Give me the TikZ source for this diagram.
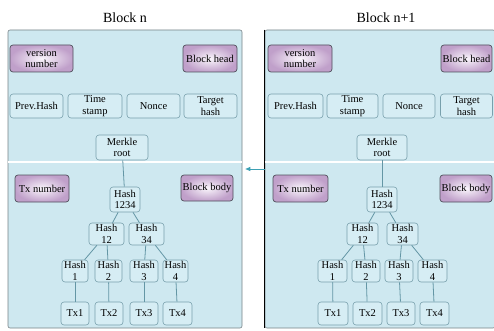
\documentclass[tikz,border=0pt]{standalone}
\usepackage{fontspec}
\setmainfont{Liberation Serif}
\usetikzlibrary{arrows.meta}
\definecolor{panelc}{RGB}{206,232,240}
\definecolor{panelb}{RGB}{120,130,135}
\definecolor{boxf}{RGB}{214,237,244}
\definecolor{boxb}{RGB}{120,160,172}
\definecolor{pin}{RGB}{250,246,252}
\definecolor{pout}{RGB}{192,160,202}
\definecolor{pborder}{RGB}{80,80,92}
\definecolor{linkc}{RGB}{100,150,165}
\definecolor{arrc}{RGB}{60,160,180}
\begin{document}
\begin{tikzpicture}[x=1pt,y=-1pt,
  sz/.style 2 args={minimum width=#1pt, minimum height=#2pt},
  panel/.style={draw=panelb, fill=panelc, rounded corners=2pt, line width=0.6pt, inner sep=0pt},
  bbox/.style={draw=boxb, fill=boxf, rounded corners=3pt, line width=0.6pt, inner sep=0pt, align=center, font=\fontsize{10.5}{11.5}\selectfont},
  pbox/.style={draw=pborder, inner color=pin, outer color=pout, rounded corners=3pt, line width=0.7pt, inner sep=0pt, align=center, font=\fontsize{10.5}{11.5}\selectfont},
  link/.style={draw=linkc, line width=0.8pt},
  sep/.style={draw=white, line width=1.2pt},
  title/.style={font=\fontsize{14}{16}\selectfont, inner sep=0pt}]
\useasboundingbox (0,0) rectangle (494,331);

% titles
\node[title] (Lt) at (125,18) {Block n};
\node[title] (Rt) at (386,18) {Block n+1};

% panels
\node[panel, sz={234}{298}] (Lpanel) at (125,179) {};
\node[panel, sz={230}{298}] (Rpanel) at (380,179) {};
\draw[black, line width=1.5pt] (Rpanel.north west) -- (Rpanel.south west);

% separators
\draw[sep] (Lpanel.west |- 0,162) -- (Lpanel.east |- 0,162);
\draw[sep] (Rpanel.west |- 0,162) -- (Rpanel.east |- 0,162);

% arrow between blocks
\draw[draw=arrc, line width=0.7pt, -{Triangle[length=5pt,width=4pt]}] (Rpanel.west |- 0,169) -- ([xshift=3pt]Lpanel.east |- 0,169);

% ---------- left block ----------
\node[pbox, sz={63}{27}] (Lvn) at (41.5,58.5) {version\\number};
\node[pbox, sz={54}{27}] (Lbh) at (210,58.5) {Block head};
\node[bbox, sz={53}{24}] (Lph) at (36.5,106) {Prev.Hash};
\node[bbox, sz={54}{24}] (Lts) at (95,106) {Time\\stamp};
\node[bbox, sz={53}{24}] (Lnc) at (153.5,106) {Nonce};
\node[bbox, sz={53}{24}] (Lth) at (210.5,106) {Target\\hash};
\node[bbox, sz={52}{25}] (Lmr) at (122,147.5) {Merkle\\root};
\node[pbox, sz={54}{27}] (Ltxn) at (42,188.5) {Tx number};
\node[pbox, sz={52}{26}] (Lbb) at (207,188) {Block body};
\node[bbox, sz={30}{25}] (Lh1234) at (125,199.5) {Hash\\1234};
\node[bbox, sz={35}{22}] (Lh12) at (106.5,234) {Hash\\12};
\node[bbox, sz={35}{22}] (Lh34) at (146.5,234) {Hash\\34};
\node[bbox, sz={26}{22}] (Lha1) at (75,271) {Hash\\1};
\node[bbox, sz={27}{22}] (Lha2) at (108.5,271) {Hash\\2};
\node[bbox, sz={28}{22}] (Lha3) at (144,271) {Hash\\3};
\node[bbox, sz={25}{22}] (Lha4) at (175.5,271) {Hash\\4};
\node[bbox, sz={28}{23}] (Ltx1) at (75,313.5) {Tx1};
\node[bbox, sz={28}{23}] (Ltx2) at (109,313.5) {Tx2};
\node[bbox, sz={28}{23}] (Ltx3) at (144,313.5) {Tx3};
\node[bbox, sz={29}{23}] (Ltx4) at (177.5,313.5) {Tx4};

\draw[link] (Lmr) -- (Lh1234);
\draw[link] (Lh1234) -- (Lh12);
\draw[link] (Lh1234) -- (Lh34);
\draw[link] (Lh12) -- (Lha1);
\draw[link] (Lh12) -- (Lha2);
\draw[link] (Lh34) -- (Lha3);
\draw[link] (Lh34) -- (Lha4);
\draw[link] (Lha1) -- (Ltx1);
\draw[link] (Lha2) -- (Ltx2);
\draw[link] (Lha3) -- (Ltx3);
\draw[link] (Lha4) -- (Ltx4);

% ---------- right block ----------
\node[pbox, sz={64}{27}] (Rvn) at (300,58.5) {version\\number};
\node[pbox, sz={51}{27}] (Rbh) at (466.5,58.5) {Block head};
\node[bbox, sz={55}{24}] (Rph) at (295.5,106) {Prev.Hash};
\node[bbox, sz={51}{24}] (Rts) at (352.5,106) {Time\\stamp};
\node[bbox, sz={52}{24}] (Rnc) at (409,106) {Nonce};
\node[bbox, sz={52}{24}] (Rth) at (466.5,106) {Target\\hash};
\node[bbox, sz={50}{25}] (Rmr) at (382,147.5) {Merkle\\root};
\node[pbox, sz={55}{27}] (Rtxn) at (300.5,188.5) {Tx number};
\node[pbox, sz={52}{27}] (Rbb) at (466,188.5) {Block body};
\node[bbox, sz={30}{25}] (Rh1234) at (382,199.5) {Hash\\1234};
\node[bbox, sz={31}{22}] (Rh12) at (362.5,234) {Hash\\12};
\node[bbox, sz={31}{22}] (Rh34) at (402.5,234) {Hash\\34};
\node[bbox, sz={29}{22}] (Rha1) at (332.5,271) {Hash\\1};
\node[bbox, sz={28}{22}] (Rha2) at (366,271) {Hash\\2};
\node[bbox, sz={28}{22}] (Rha3) at (399,271) {Hash\\3};
\node[bbox, sz={29}{22}] (Rha4) at (432.5,271) {Hash\\4};
\node[bbox, sz={30}{23}] (Rtx1) at (333,313.5) {Tx1};
\node[bbox, sz={29}{23}] (Rtx2) at (367.5,313.5) {Tx2};
\node[bbox, sz={28}{23}] (Rtx3) at (401,313.5) {Tx3};
\node[bbox, sz={29}{23}] (Rtx4) at (434.5,313.5) {Tx4};

\draw[link] (Rmr) -- (Rh1234);
\draw[link] (Rh1234) -- (Rh12);
\draw[link] (Rh1234) -- (Rh34);
\draw[link] (Rh12) -- (Rha1);
\draw[link] (Rh12) -- (Rha2);
\draw[link] (Rh34) -- (Rha3);
\draw[link] (Rh34) -- (Rha4);
\draw[link] (Rha1) -- (Rtx1);
\draw[link] (Rha2) -- (Rtx2);
\draw[link] (Rha3) -- (Rtx3);
\draw[link] (Rha4) -- (Rtx4);
\end{tikzpicture}
\end{document}
